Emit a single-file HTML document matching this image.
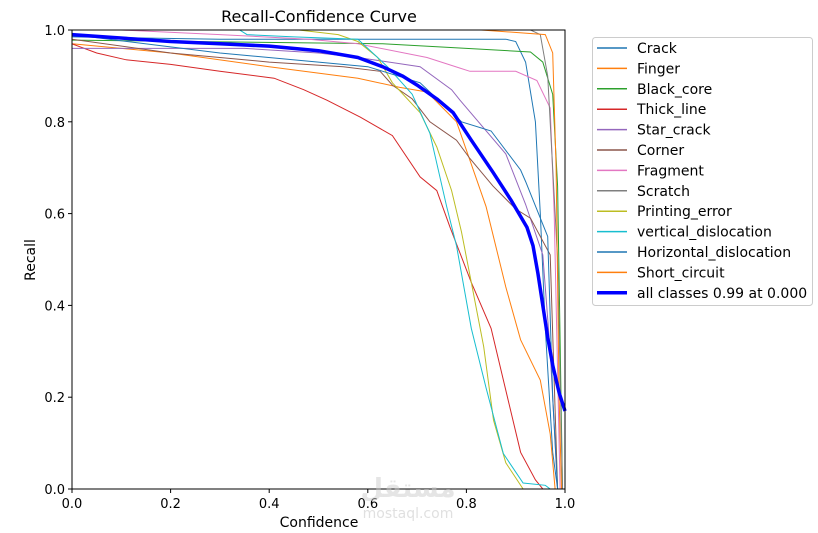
<!DOCTYPE html>
<html><head><meta charset="utf-8"><style>
body{margin:0;background:#fff;}
svg{display:block;font-family:"DejaVu Sans","Liberation Sans",sans-serif;}
</style></head><body>
<svg id="chart" width="818" height="533" viewBox="0 0 818 533">
<rect width="818" height="533" fill="#fff"/>
<text x="319" y="22" text-anchor="middle" font-size="16">Recall-Confidence Curve</text>
<g id="plot"></g>
<g id="axes"></g>
<g id="legend"></g>
<text x="319" y="527" text-anchor="middle" font-size="14">Confidence</text>
<text x="35" y="260" text-anchor="middle" font-size="14" transform="rotate(-90 35 260)">Recall</text>
<text x="408" y="497" text-anchor="middle" font-size="26" font-weight="bold" fill="#ccc" opacity="0.5">مستقل</text>
<text x="408" y="518" text-anchor="middle" font-size="14" fill="#ccc" opacity="0.6">mostaql.com</text>
</svg>
<script>
const xTicks=[0,0.2,0.4,0.6,0.8,1.0];
const yTicks=[0,0.2,0.4,0.6,0.8,1.0];
const seriesNames=["Crack","Finger","Black_core","Thick_line","Star_crack","Corner","Fragment","Scratch","Printing_error","vertical_dislocation","Horizontal_dislocation","Short_circuit"];
const seriesColors=["#1f77b4","#ff7f0e","#2ca02c","#d62728","#9467bd","#8c564b","#e377c2","#7f7f7f","#bcbd22","#17becf","#1f77b4","#ff7f0e"];
const crack=[[0,0.985],[0.3,0.98],[0.88,0.98],[0.9,0.975],[0.92,0.93],[0.94,0.8],[0.95,0.6],[0.96,0.35],[0.975,0.08],[0.985,0]];
const finger=[[0,0.97],[0.2,0.95],[0.4,0.92],[0.58,0.895],[0.665,0.875],[0.72,0.865],[0.78,0.8],[0.84,0.615],[0.88,0.44],[0.91,0.325],[0.95,0.237],[0.97,0.12],[0.98,0]];
const blackCore=[[0,0.978],[0.63,0.97],[0.8,0.96],[0.93,0.952],[0.955,0.93],[0.975,0.86],[0.985,0.66],[0.995,0]];
const thickLine=[[0,0.97],[0.05,0.95],[0.11,0.935],[0.2,0.925],[0.3,0.91],[0.41,0.895],[0.47,0.87],[0.517,0.847],[0.585,0.81],[0.65,0.77],[0.706,0.68],[0.74,0.65],[0.767,0.57],[0.81,0.45],[0.85,0.35],[0.88,0.215],[0.91,0.08],[0.94,0.02],[0.955,0]];
const starCrack=[[0,0.96],[0.35,0.96],[0.5,0.95],[0.58,0.94],[0.706,0.92],[0.77,0.87],[0.787,0.847],[0.88,0.73],[0.92,0.62],[0.955,0.51],[0.97,0.3],[0.985,0]];
const corner=[[0,0.98],[0.2,0.95],[0.3,0.94],[0.4,0.93],[0.55,0.92],[0.625,0.91],[0.65,0.88],[0.69,0.85],[0.726,0.8],[0.78,0.76],[0.807,0.72],[0.854,0.66],[0.9,0.61],[0.93,0.59],[0.97,0.51],[0.985,0]];
const fragment=[[0,1.0],[0.1,1.0],[0.3,0.99],[0.48,0.98],[0.58,0.97],[0.72,0.94],[0.787,0.917],[0.807,0.91],[0.9,0.91],[0.943,0.89],[0.97,0.83],[0.978,0.6],[0.99,0]];
const scratch=[[0,1.0],[0.93,1.0],[0.95,0.99],[0.965,0.9],[0.985,0.5],[0.995,0]];
const printingError=[[0,1.0],[0.46,1.0],[0.54,0.99],[0.58,0.975],[0.62,0.94],[0.65,0.885],[0.706,0.82],[0.74,0.745],[0.77,0.65],[0.79,0.56],[0.81,0.45],[0.835,0.31],[0.855,0.15],[0.88,0.057],[0.915,0]];
const verticalDislocation=[[0,1.0],[0.34,1.0],[0.355,0.99],[0.45,0.985],[0.58,0.98],[0.64,0.92],[0.69,0.86],[0.726,0.775],[0.76,0.615],[0.78,0.53],[0.81,0.35],[0.84,0.22],[0.875,0.077],[0.915,0.013],[0.96,0.008],[0.97,0]];
const horizontalDislocation=[[0,0.99],[0.3,0.95],[0.5,0.93],[0.6,0.92],[0.706,0.885],[0.79,0.8],[0.85,0.78],[0.91,0.695],[0.92,0.67],[0.965,0.55],[0.975,0.2],[0.985,0]];
const shortCircuit=[[0,1.0],[0.83,1.0],[0.96,0.99],[0.975,0.95],[0.982,0.7],[0.988,0.2],[0.993,0]];
const allClasses=[[0,0.99],[0.2,0.975],[0.3,0.97],[0.4,0.965],[0.5,0.955],[0.58,0.94],[0.63,0.92],[0.67,0.9],[0.7,0.88],[0.74,0.85],[0.773,0.82],[0.81,0.76],[0.854,0.69],[0.89,0.63],[0.923,0.57],[0.935,0.53],[0.945,0.47],[0.955,0.4],[0.965,0.33],[0.975,0.27],[0.988,0.21],[1.0,0.17]];
const seriesData=[crack,finger,blackCore,thickLine,starCrack,corner,fragment,scratch,printingError,verticalDislocation,horizontalDislocation,shortCircuit];
const allLabel="all classes 0.99 at 0.000";

const NS="http://www.w3.org/2000/svg";
const X0=72,X1=565,Y0=489,Y1=30;
const xs=v=>X0+v*(X1-X0);
const ys=v=>Y0-v*(Y0-Y1);
function mk(tag,attrs,parent){const e=document.createElementNS(NS,tag);for(const k in attrs)e.setAttribute(k,attrs[k]);parent.appendChild(e);return e;}
const plot=document.getElementById('plot');
const axes=document.getElementById('axes');
const legend=document.getElementById('legend');
const clip=mk('clipPath',{id:'clipP'},plot);
mk('rect',{x:X0,y:Y1-1,width:X1-X0,height:Y0-Y1+1},clip);
seriesData.forEach((d,i)=>{
  const p=mk('polyline',{points:d.map(q=>xs(q[0]).toFixed(1)+','+ys(q[1]).toFixed(1)).join(' '),fill:'none',stroke:seriesColors[i],'stroke-width':1,'clip-path':'url(#clipP)'},plot);
  
  
});
const ap=mk('polyline',{points:allClasses.map(q=>xs(q[0]).toFixed(1)+','+ys(q[1]).toFixed(1)).join(' '),fill:'none',stroke:'#0000ff','stroke-width':3.5,'stroke-linejoin':'round'},plot);


const fr=mk('rect',{x:X0,y:Y1,width:X1-X0,height:Y0-Y1,fill:'none',stroke:'#000','stroke-width':1},axes);


xTicks.forEach(t=>{
  const l=mk('line',{x1:xs(t),x2:xs(t),y1:Y0,y2:Y0+4,stroke:'#000'},axes);
  
  
  const tx=mk('text',{x:xs(t),y:Y0+19,'text-anchor':'middle','font-size':13},axes);
  tx.textContent=t.toFixed(1);
  
  
});
yTicks.forEach(t=>{
  const l=mk('line',{x1:X0-4,x2:X0,y1:ys(t),y2:ys(t),stroke:'#000'},axes);
  
  
  const tx=mk('text',{x:X0-7,y:ys(t)+5,'text-anchor':'end','font-size':13},axes);
  tx.textContent=t.toFixed(1);
  
  
});
const lb=mk('rect',{x:592.5,y:37.5,width:220,height:268,rx:3,fill:'#fff',stroke:'#ccc'},legend);


const names=seriesNames.concat([allLabel]);
names.forEach((n,i)=>{
  const y=48+i*20.4;
  const last=i===names.length-1;
  const g=mk('g',{},legend);
  
  
  mk('line',{x1:597,x2:627,y1:y,y2:y,stroke:last?'#0000ff':seriesColors[i],'stroke-width':last?3.5:1.5},g);
  const t=mk('text',{x:637,y:y+5,'font-size':14},g);
  t.textContent=n;
});
</script>
</body></html>
